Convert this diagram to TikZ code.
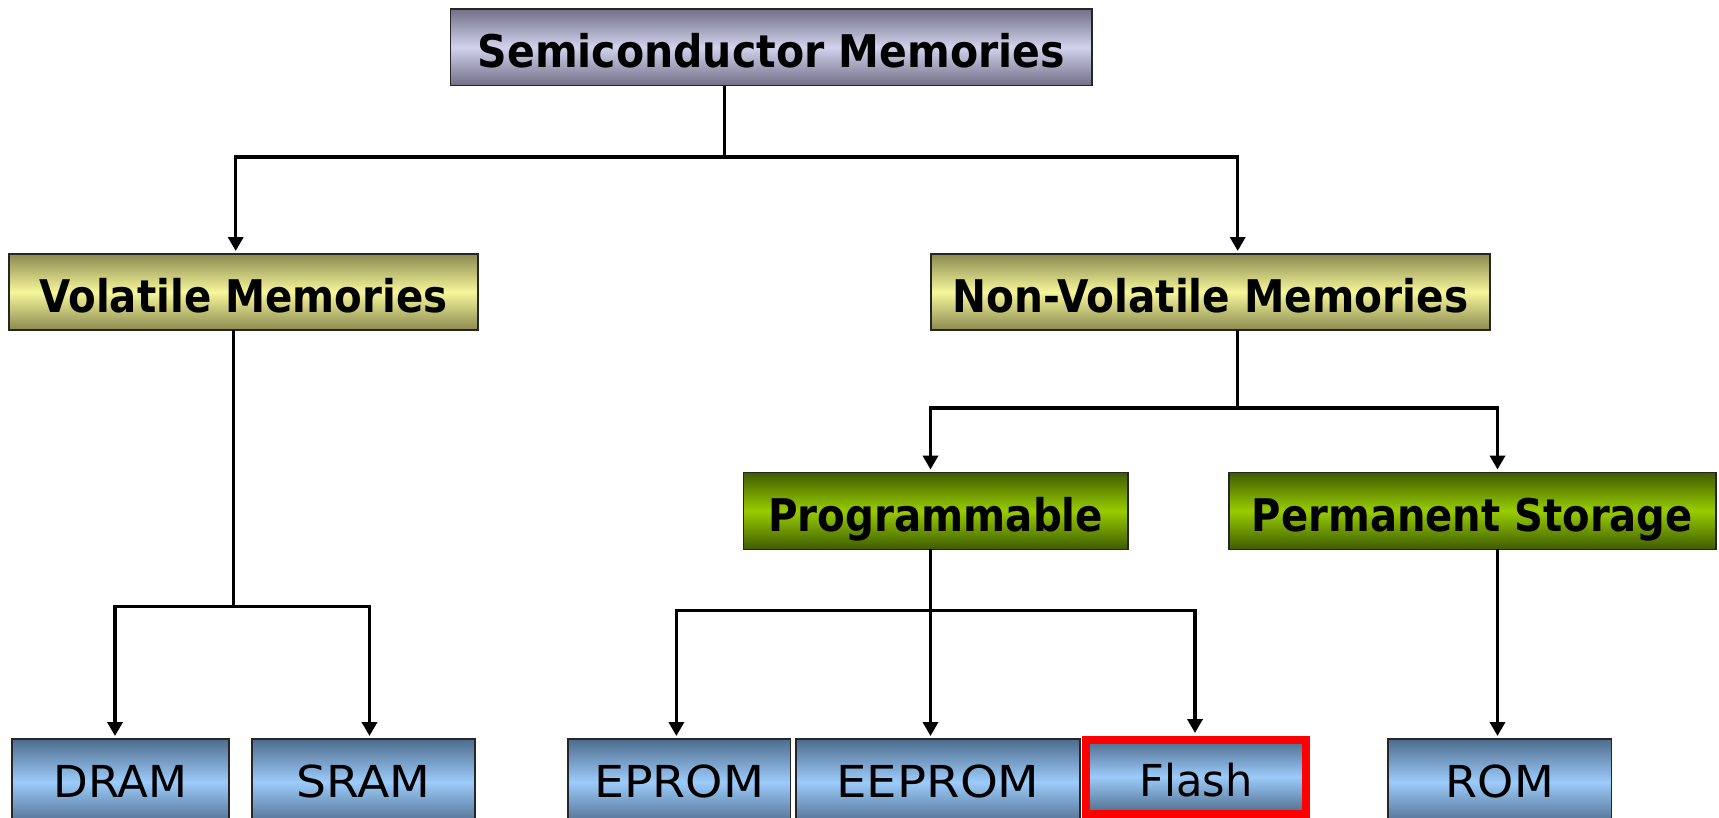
\documentclass[tikz,border=0pt]{standalone}
\usepackage{graphicx}
\usepackage{fontspec}
\setmainfont{DejaVu Sans}
\usetikzlibrary{arrows.meta}

% stretch a label to a given width, keeping its height
\newcommand{\fitto}[2]{\resizebox{#1}{\height}{#2}}

\definecolor{greyDark}{HTML}{716F86}
\definecolor{greyLight}{HTML}{D2D2EC}
\definecolor{olvDark}{HTML}{8B8A50}
\definecolor{olvLight}{HTML}{F6F69B}
\definecolor{grnDark}{HTML}{3E5C00}
\definecolor{grnLight}{HTML}{99CC00}
\definecolor{bluDark}{HTML}{4E6C8C}
\definecolor{bluLight}{HTML}{9CCBFA}

\tikzset{
  box/.style={draw=black!85, line width=1.5pt, inner sep=0pt, outer sep=0pt},
  headtext/.style={font=\bfseries\fontsize{45}{48}\selectfont, text height=41pt, text depth=0pt},
  leaftext/.style={font=\fontsize{44}{48}\selectfont, text height=30pt, text depth=0pt},
  rootbox/.style={box, headtext, top color=greyDark, bottom color=greyDark, middle color=greyLight},
  catbox/.style={box, headtext, top color=olvDark, bottom color=olvDark, middle color=olvLight},
  subbox/.style={box, headtext, top color=grnDark, bottom color=grnDark, middle color=grnLight},
  leafbox/.style={box, leaftext, top color=bluDark, bottom color=bluDark, middle color=bluLight,
                  minimum height=86pt},
  wire/.style={line width=3.5pt, draw=black},
  arr/.style={wire, -{Triangle[width=15pt,length=14pt]}, shorten >=3pt},
}

\begin{document}
\begin{tikzpicture}[x=1pt,y=-1pt]
\useasboundingbox (0,0) rectangle (1719,817);
\clip (0,0) rectangle (1719,817);
\fill[white] (0,0) rectangle (1719,817);

% category boxes
\node[rootbox, minimum width=641.4pt, minimum height=76.7pt] (root) at (771.3,47.2)
  {\fitto{587pt}{Semiconductor Memories}\hspace{12pt}};
\node[catbox, minimum width=469.2pt, minimum height=76pt] (vol) at (243.4,292)
  {\fitto{408pt}{Volatile Memories}\hspace{12pt}};
\node[catbox, minimum width=559.2pt, minimum height=76pt] (nvol) at (1210.4,292)
  {\fitto{516pt}{Non-Volatile Memories}};
\node[subbox, minimum width=384.7pt, minimum height=76.7pt] (prog) at (935.7,510.9)
  {\fitto{335pt}{Programmable}};
\node[subbox, minimum width=486.7pt, minimum height=76.7pt] (perm) at (1472.4,510.9)
  {\fitto{441pt}{Permanent Storage}};

% memory types
\node[leafbox, minimum width=217pt] (dram) at (120.5,782) {\fitto{134pt}{DRAM}};
\node[leafbox, minimum width=222.7pt] (sram) at (363.4,782) {\fitto{134pt}{SRAM}};
\node[leafbox, minimum width=222.5pt] (eprom) at (679.2,782) {\fitto{170pt}{EPROM}};
\node[leafbox, minimum width=284pt] (eeprom) at (938,782) {\fitto{203pt}{EEPROM}};
\node[leafbox, draw=red, line width=8pt, minimum width=220pt, minimum height=73.5pt,
      text height=38.5pt] (flash) at (1196,776.75) {\fitto{113pt}{Flash}};
\node[leafbox, minimum width=223.6pt] (rom) at (1499.8,782) {\fitto{108pt}{ROM}};

% junction points of the tree
\coordinate (rJ) at (724.7,156.8);
\coordinate (vX) at (235.7,156.8);
\coordinate (nX) at (1237.7,156.8);
\coordinate (vJ) at (233.5,606.5);
\coordinate (dX) at (115,606.5);
\coordinate (sX) at (369.5,606.5);
\coordinate (nJ) at (1237.7,407.8);
\coordinate (pX) at (930.5,407.8);
\coordinate (qX) at (1497.5,407.8);
\coordinate (gJ) at (930.5,610.6);
\coordinate (aX) at (676.4,610.6);
\coordinate (fX) at (1195,610.6);

% connectors
\draw[wire] (root.south -| rJ) -- (rJ);
\draw[arr] (rJ) -| (vol.north -| vX);
\draw[arr] (rJ) -| (nvol.north -| nX);

\draw[wire] (vol.south -| vJ) -- (vJ);
\draw[arr] (vJ) -| (dram.north -| dX);
\draw[arr] (vJ) -| (sram.north -| sX);

\draw[wire] (nvol.south -| nJ) -- (nJ);
\draw[arr] (nJ) -| (prog.north -| pX);
\draw[arr] (nJ) -| (perm.north -| qX);

\draw[arr] (prog.south -| gJ) -- (eeprom.north -| gJ);
\draw[arr] (gJ) -| (eprom.north -| aX);
\draw[arr, shorten >=7pt] (gJ) -| (flash.north -| fX);

\draw[arr] (perm.south -| qX) -- (rom.north -| qX);
\end{tikzpicture}
\end{document}
